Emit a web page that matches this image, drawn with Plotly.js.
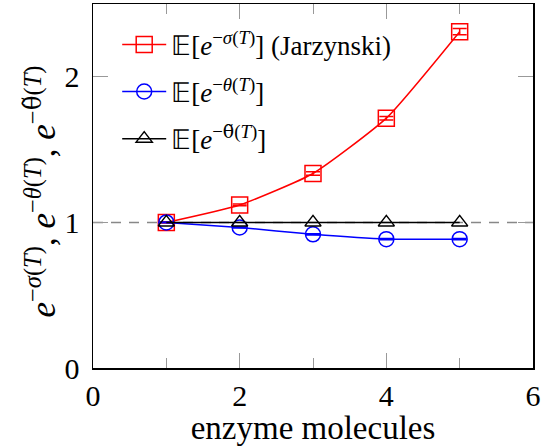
<!DOCTYPE html>
<html>
<head>
<meta charset="utf-8">
<script src="https://cdn.plot.ly/plotly-3.0.1.min.js"></script>
<style>html,body{margin:0;padding:0;background:#fff;}#chart{width:543px;height:446px;}</style>
</head>
<body>
<div id="chart"></div>
<script>
const enzymes = [1, 2, 3, 4, 5];
const sigmaVals = [1.0, 1.12, 1.336, 1.716, 2.31];
const sigmaErr = [0.004, 0.006, 0.012, 0.012, 0.022];
const thetaVals = [1.0, 0.965, 0.918, 0.885, 0.885];
const thetaErr = [0.002, 0.003, 0.004, 0.004, 0.004];
const thetaTildeVals = [1.0, 1.0, 1.0, 1.0, 1.0];
const xTicks = [0, 2, 4, 6];
const yTicks = [0, 1, 2];
const tTilde = '<span style="font-family:DejaVu Serif">θ̃</span>';
const legendNames = [
  "𝔼[<i>e</i><sup>−<i>σ</i>(<i>T</i>)</sup>] (Jarzynski)",
  "𝔼[<i>e</i><sup>−<i>θ</i>(<i>T</i>)</sup>]",
  "𝔼[<i>e</i><sup>−" + tTilde + "(<i>T</i>)</sup>]"
];
const xTitle = 'enzyme molecules';
const yTitle = '<i>e</i><sup>−<i>σ</i>(<i>T</i>)</sup>, <i>e</i><sup>−<i>θ</i>(<i>T</i>)</sup>, <i>e</i><sup>−' + tTilde + '(<i>T</i>)</sup>';
const serif = 'Liberation Serif';

const traces = [
  {x: enzymes, y: sigmaVals, name: legendNames[0], legendgroup: 'a', mode: 'lines+markers', type: 'scatter',
   line: {color: 'red', width: 1.5, shape: 'spline', smoothing: 0.5},
   marker: {symbol: 'square-open', size: 16, color: 'red', line: {width: 1.5, color: 'red'}},
   error_y: {type: 'data', array: sigmaErr, visible: true, color: 'red', thickness: 1.5, width: 7}},
  {x: enzymes, y: thetaVals, name: legendNames[1], legendgroup: 'b', mode: 'lines+markers', type: 'scatter',
   line: {color: 'blue', width: 1.5, shape: 'spline', smoothing: 0.5},
   marker: {symbol: 'circle-open', size: 15, color: 'blue', line: {width: 1.5, color: 'blue'}},
   error_y: {type: 'data', array: thetaErr, visible: true, color: 'blue', thickness: 1.5, width: 7}},
  {x: enzymes, y: thetaTildeVals, name: legendNames[2], legendgroup: 'c', mode: 'lines+markers', type: 'scatter',
   line: {color: 'black', width: 1.5, shape: 'spline', smoothing: 0.5},
   marker: {symbol: 'triangle-up-open', size: 14, color: 'black', line: {width: 1.5, color: 'black'}}}
];

const layout = {
  width: 543, height: 446,
  margin: {l: 93, r: 10, t: 4, b: 78},
  paper_bgcolor: '#fff', plot_bgcolor: '#fff',
  font: {family: serif, color: '#000', size: 26},
  showlegend: true,
  legend: {x: 0.055, y: 0.955, xanchor: 'left', yanchor: 'top', bgcolor: 'rgba(255,255,255,0)',
           borderwidth: 0, font: {family: serif, size: 27, color: '#000'}, tracegroupgap: 9, itemwidth: 44},
  xaxis: {range: [0, 6], tickvals: xTicks, ticktext: xTicks.map(String),
          ticks: 'inside', ticklen: 15, tickwidth: 1, tickcolor: '#999',
          minor: {dtick: 1, ticks: 'inside', ticklen: 10, tickwidth: 1, tickcolor: '#999', showgrid: false},
          showline: true, linecolor: '#000', linewidth: 1.5, mirror: 'allticks',
          showgrid: false, zeroline: false,
          tickfont: {family: serif, size: 30, color: '#000'},
          title: {text: xTitle, font: {family: serif, size: 33, color: '#000'}, standoff: 4}},
  yaxis: {range: [0, 2.5], tickvals: yTicks, ticktext: yTicks.map(String),
          ticks: 'inside', ticklen: 15, tickwidth: 1, tickcolor: '#999',
          showline: true, linecolor: '#000', linewidth: 1.5, mirror: 'allticks',
          showgrid: false, zeroline: false, ticklabelstandoff: 6,
          tickfont: {family: serif, size: 30, color: '#000'}},
  annotations: [{xref: 'paper', yref: 'paper', x: -0.118, y: 0.485, xanchor: 'center', yanchor: 'middle',
                 textangle: -90, showarrow: false, text: yTitle,
                 font: {family: serif, size: 35, color: '#000'}}],
  shapes: [{type: 'line', xref: 'paper', x0: 0, x1: 1, yref: 'y', y0: 1, y1: 1,
            line: {color: '#888', width: 1.5, dash: '10px,8px'}, layer: 'below'}]
};

Plotly.newPlot('chart', traces, layout, {displayModeBar: false, staticPlot: true});
</script>
</body>
</html>
